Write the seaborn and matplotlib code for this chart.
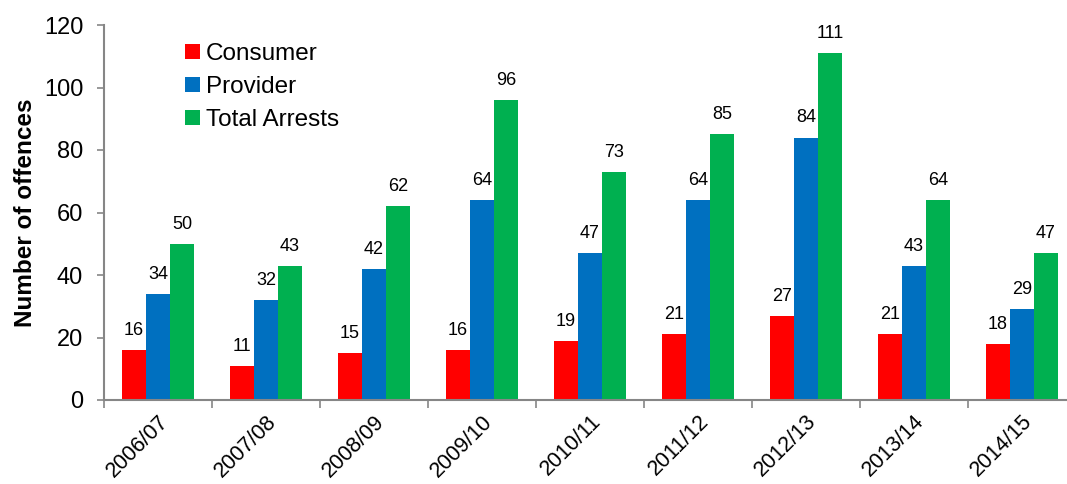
import matplotlib
matplotlib.use("Agg")
import matplotlib.pyplot as plt
from matplotlib.patches import Patch
from matplotlib.ticker import FixedLocator, MultipleLocator
import pandas as pd
import seaborn as sns

years = ["2006/07", "2007/08", "2008/09", "2009/10", "2010/11",
         "2011/12", "2012/13", "2013/14", "2014/15"]
consumer = [16, 11, 15, 16, 19, 21, 27, 21, 18]
provider = [34, 32, 42, 64, 47, 64, 84, 43, 29]
total_arrests = [50, 43, 62, 96, 73, 85, 111, 64, 47]

series_names = ["Consumer", "Provider", "Total Arrests"]
series_values = [consumer, provider, total_arrests]
colors = ["#FF0000", "#0070C0", "#00B050"]

rows = []
for name, vals in zip(series_names, series_values):
    for yr, v in zip(years, vals):
        rows.append({"Year": yr, "Series": name, "Value": v})
df = pd.DataFrame(rows)

sns.set_style("white")
plt.rcParams["font.family"] = ["Liberation Sans", "DejaVu Sans"]
plt.rcParams["text.color"] = "black"
plt.rcParams["axes.labelcolor"] = "black"
plt.rcParams["xtick.color"] = "black"
plt.rcParams["ytick.color"] = "black"

W, H = 1067, 484
fig = plt.figure(figsize=(W / 100, H / 100), dpi=100)
# axes spans category 0 start to category 9 end (right edge runs past the canvas)
ax = fig.add_axes([104 / W, 1 - 400 / H, 972 / W, 375 / H])

sns.barplot(data=df, x="Year", y="Value", hue="Series", order=years,
            hue_order=series_names, palette=colors, width=0.667, gap=0,
            saturation=1, linewidth=0, legend=False, ax=ax)

for cont, vals in zip(ax.containers, series_values):
    ax.bar_label(cont, labels=[str(v) for v in vals], padding=8,
                 fontsize=13, color="black")

ax.set_xlim(-0.5, len(years) - 0.5)
ax.set_ylim(0, 120)
ax.yaxis.set_major_locator(MultipleLocator(20))

grey = "#868686"
for side in ["top", "right"]:
    ax.spines[side].set_visible(False)
for side in ["left", "bottom"]:
    ax.spines[side].set_color(grey)
    ax.spines[side].set_linewidth(1.5)

ax.tick_params(axis="y", which="major", direction="out", length=5,
               width=1.2, color=grey, labelcolor="black", labelsize=17,
               pad=10, left=True)
ax.tick_params(axis="x", which="major", length=0, labelsize=15.5,
               labelcolor="black", pad=8)
ax.xaxis.set_minor_locator(FixedLocator([i - 0.5 for i in range(len(years) + 1)]))
ax.tick_params(axis="x", which="minor", direction="out", length=6,
               width=1.2, color=grey, bottom=True)

ax.set_xticks(range(len(years)))
ax.set_xticklabels(years, rotation=45, ha="right", va="top",
                   rotation_mode="anchor")
ax.set_xlabel("")
ax.set_ylabel("Number of offences", fontsize=17.5, fontweight="bold",
              labelpad=5, color="black")

handles = [Patch(facecolor=c, edgecolor="none") for c in colors]
fig.legend(handles, series_names, loc="upper left",
           bbox_to_anchor=(185 / W, 1 - 43 / H), frameon=False, fontsize=17.5,
           handlelength=0.6, handleheight=0.6, handletextpad=0.25,
           labelspacing=0.45, borderpad=0, borderaxespad=0)

fig.savefig("out.png", dpi=100)
